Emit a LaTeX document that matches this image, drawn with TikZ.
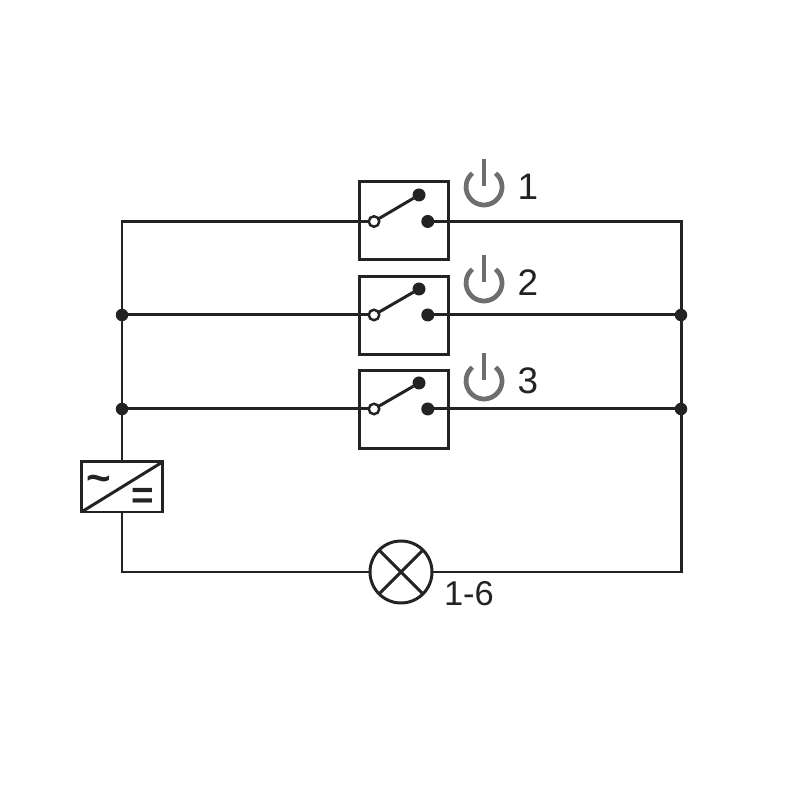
\documentclass[tikz,border=0pt]{standalone}
\usepackage{fontspec}
\setmainfont{Liberation Sans}
\usepackage{tikz}
\usetikzlibrary{positioning}

\definecolor{wire}{HTML}{232323}
\definecolor{pwrgray}{HTML}{6E6E6E}

\begin{document}
\begin{tikzpicture}[line width=0.85pt, color=wire, every node/.style={outer sep=0pt}]
% STYLES
\tikzset{%
    switchbox/.style={%
    draw,
    rectangle,
    minimum width=0.89cm,
    minimum height=0.78cm,
    inner sep=0pt}
    }
\tikzset{%
    junction/.style={%
    circle,
    fill=wire,
    inner sep=0pt,
    minimum size=0.125cm}
    }
\tikzset{%
    contact/.style={%
    junction,
    minimum size=0.13cm}
    }
\tikzset{%
    opencontact/.style={%
    circle,
    draw,
    fill=white,
    line width=0.7pt,
    inner sep=0pt,
    minimum size=0.105cm}
    }
\tikzset{%
    pwrline/.style={%
    draw=pwrgray,
    line width=1.35pt}
    }
\tikzset{%
    number/.style={%
    inner sep=0pt,
    font=\fontsize{10.5}{12}\selectfont,
    text=wire}
    }
\useasboundingbox (0,0) rectangle (8,8);

% Draw switches
\node [switchbox] (Switch1) at (4.035,5.79) {};
\node [switchbox, below=0.165cm of Switch1] (Switch2) {};
\node [switchbox, below=0.165cm of Switch2] (Switch3) {};

\node [opencontact] (Open1) at (3.74,5.785) {};
\node [contact, right=0.42cm of Open1] (On1) {};
\node [contact] (Off1) at (4.19,6.05) {};
\node [opencontact] (Open2) at (3.74,4.85) {};
\node [contact, right=0.42cm of Open2] (On2) {};
\node [contact] (Off2) at (4.19,5.11) {};
\node [opencontact] (Open3) at (3.74,3.91) {};
\node [contact, right=0.42cm of Open3] (On3) {};
\node [contact] (Off3) at (4.19,4.17) {};

% Draw rails
\node [junction] (LeftRail2) at (1.22,4.85) {};
\node [junction] (LeftRail3) at (1.22,3.91) {};
\node [junction] (RightRail2) at (6.81,4.85) {};
\node [junction] (RightRail3) at (6.81,3.91) {};
\coordinate (LeftTop) at (1.22,5.785);
\coordinate (RightTop) at (6.81,5.785);
\coordinate (RightBottom) at (6.81,2.28);

% Draw converter and lamp
\node [draw, rectangle, minimum width=0.81cm, minimum height=0.50cm, inner sep=0pt] (Converter) at (1.22,3.13) {};
\node [inner sep=0pt, font=\fontsize{12}{12}\selectfont\bfseries] (Tilde) at (0.99,3.16) {\char`\~};
\node [inner sep=0pt, font=\fontsize{11}{11}\selectfont\bfseries] (Equal) at (1.43,3.015) {=};
\node [draw, circle, minimum size=0.62cm, inner sep=0pt] (Lamp) at (4.01,2.28) {};
\node [number, font=\fontsize{9.8}{12}\selectfont, below right=0.09cm and 0.12cm of Lamp.east] (LampLabel) {1-6};

% Draw the links
\draw (Converter.south west) -- (Converter.north east);
\draw (Lamp.45) -- (Lamp.225);
\draw (Lamp.135) -- (Lamp.315);
\draw (Converter.north) -- (LeftRail3) -- (LeftRail2) -- (LeftTop) -- (Open1);
\draw (LeftRail2) -- (Open2);
\draw (LeftRail3) -- (Open3);
\draw (On1) -- (RightTop) -- (RightRail2) -- (RightRail3) -- (RightBottom) -- (Lamp);
\draw (On2) -- (RightRail2);
\draw (On3) -- (RightRail3);
\draw (Converter.south) |- (Lamp);
\draw (Open1) -- (Off1);
\draw (Open2) -- (Off2);
\draw (Open3) -- (Off3);

% Draw power symbols
\coordinate (Power1) at (4.84,6.13);
\coordinate (Power2) at (4.84,5.17);
\coordinate (Power3) at (4.84,4.19);
\node [number, right=0.335cm of Power1] (Label1) {1};
\node [number, right=0.335cm of Power2] (Label2) {2};
\node [number, right=0.335cm of Power3] (Label3) {3};
\draw [pwrline] (Power1) ++(50:0.18) arc (50:-230:0.18);
\draw [pwrline] (Power1) ++(0,0.28) -- ++(0,-0.27);
\draw [pwrline] (Power2) ++(50:0.18) arc (50:-230:0.18);
\draw [pwrline] (Power2) ++(0,0.28) -- ++(0,-0.27);
\draw [pwrline] (Power3) ++(50:0.18) arc (50:-230:0.18);
\draw [pwrline] (Power3) ++(0,0.28) -- ++(0,-0.27);
\end{tikzpicture}
\end{document}
